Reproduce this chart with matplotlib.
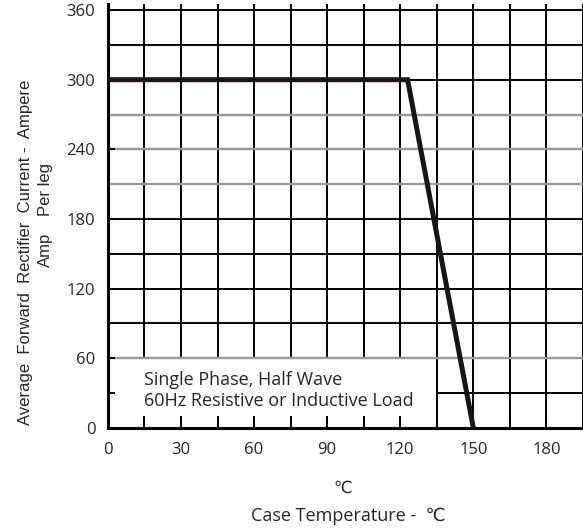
import numpy as np
import matplotlib
matplotlib.use("Agg")
import matplotlib.pyplot as plt

# derating curve: case temperature (C) vs forward current (A)
temp_c = [0, 123, 150]
current_a = [300, 300, 0]

x_ticks = [0, 30, 60, 90, 120, 150, 180]
y_ticks = [0, 60, 120, 180, 240, 300, 360]
x_grid = [15, 30, 45, 60, 75, 90, 105, 120, 135, 150, 165, 180, 195]
y_grid_black = [90, 120, 150, 180, 300, 330, 360]
y_grid_gray = [60, 210, 240, 270]

note_lines = "Single Phase, Half Wave\n60Hz Resistive or Inductive Load"

fonts = ['Open Sans', 'DejaVu Sans']
narrow = ['Liberation Sans Narrow', 'Liberation Sans', 'DejaVu Sans']
txt_col = '#25252e'

fig = plt.figure(figsize=(5.83, 5.29), dpi=100)
ax = fig.add_axes([0.185, 0.191, 0.815, 0.801])
ax.set_xlim(0, 195)
ax.set_ylim(0, 365)

# grid: the note box (x < 135, y < 60) is left open
for x in x_grid:
    y0 = 0 if x >= 135 else 60
    ax.vlines(x, y0, 365, color='black', lw=1.4, zorder=1)
for y in y_grid_black:
    ax.hlines(y, 0, 195, color='black', lw=1.4, zorder=1)
for y in y_grid_gray:
    ax.hlines(y, 0, 195, color='#9a9a9a', lw=1.7, zorder=1)
ax.hlines(30, 135, 195, color='black', lw=1.4, zorder=1)

ax.plot(temp_c, current_a, color='#1a1414', lw=3.6, solid_capstyle='butt',
        solid_joinstyle='miter', zorder=3)

ax.text(15, 32, note_lines, fontsize=13, family=fonts, color=txt_col,
        va='center', ha='left', linespacing=1.2)

for s in ['top', 'right']:
    ax.spines[s].set_visible(False)
for s in ['left', 'bottom']:
    ax.spines[s].set_linewidth(2.2)

ax.set_xticks(x_ticks)
ax.set_yticks(y_ticks)
ax.set_xticks(x_grid, minor=True)
ax.set_yticks([30], minor=True)
ax.tick_params(axis='x', which='both', direction='in', length=9, width=1.4,
               color='black')
ax.tick_params(axis='y', which='both', direction='in', length=5, width=1.4,
               color='black')
ax.tick_params(axis='x', which='major', pad=10)
ax.tick_params(axis='y', which='major', pad=9)
for lab in ax.get_xticklabels() + ax.get_yticklabels():
    lab.set_fontfamily(fonts)
    lab.set_fontsize(12)
    lab.set_color(txt_col)

fig.text(0.043, 0.522, "Average  Forward  Rectifier  Current -  Ampere",
         rotation=90, ha='center', va='center', fontsize=12, family=narrow,
         color=txt_col)
fig.text(0.078, 0.527, "Amp", rotation=90, ha='center', va='center',
         fontsize=12, family=narrow, color=txt_col)
fig.text(0.078, 0.641, "Per leg", rotation=90, ha='center', va='center',
         fontsize=12, family=narrow, color=txt_col)

fig.text(0.587, 0.077, "\u2103", ha='center', va='center', fontsize=12,
         family=fonts, color=txt_col)
fig.text(0.597, 0.025, "Case Temperature -  \u2103", ha='center', va='center',
         fontsize=13, family=fonts, color=txt_col)

fig.savefig("out.png", dpi=100)
